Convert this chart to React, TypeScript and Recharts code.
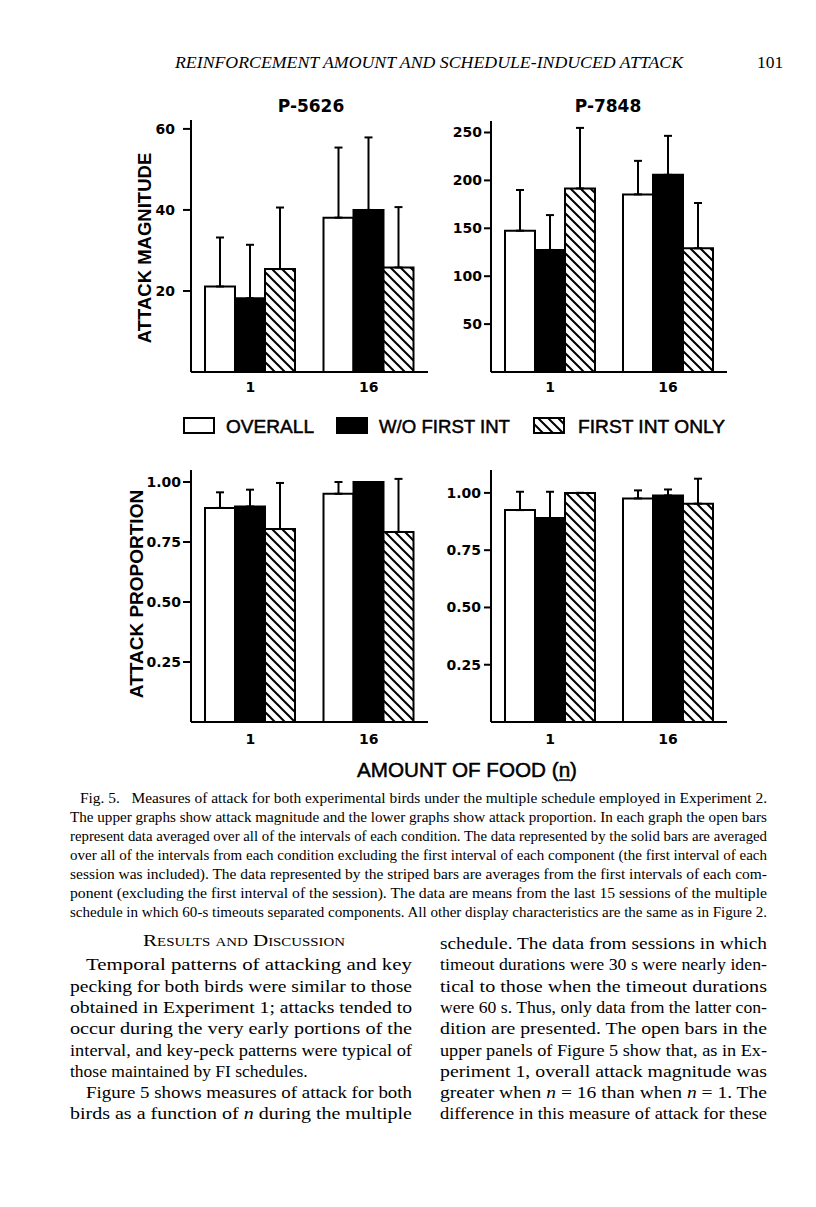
import React from 'react';
import { BarChart, Bar, XAxis, YAxis, ErrorBar } from 'recharts';

// ---------- data ----------
const categories = ['1', '16'];

// P-5626 attack magnitude
const magnitude5626Overall = [21.1, 38.1];
const magnitude5626OverallErr = [12.1, 17.3];
const magnitude5626WithoutFirst = [18.2, 40.0];
const magnitude5626WithoutFirstErr = [13.2, 17.9];
const magnitude5626FirstOnly = [25.4, 25.8];
const magnitude5626FirstOnlyErr = [15.2, 14.9];

// P-7848 attack magnitude
const magnitude7848Overall = [147.5, 185.4];
const magnitude7848OverallErr = [42.5, 35.0];
const magnitude7848WithoutFirst = [127.4, 205.8];
const magnitude7848WithoutFirstErr = [36.4, 40.7];
const magnitude7848FirstOnly = [191.6, 129.1];
const magnitude7848FirstOnlyErr = [63.2, 47.3];

// P-5626 attack proportion
const proportion5626Overall = [0.892, 0.951];
const proportion5626OverallErr = [0.065, 0.049];
const proportion5626WithoutFirst = [0.898, 1.0];
const proportion5626WithoutFirstErr = [0.07, 0];
const proportion5626FirstOnly = [0.804, 0.792];
const proportion5626FirstOnlyErr = [0.192, 0.221];

// P-7848 attack proportion
const proportion7848Overall = [0.925, 0.976];
const proportion7848OverallErr = [0.08, 0.035];
const proportion7848WithoutFirst = [0.89, 0.989];
const proportion7848WithoutFirstErr = [0.115, 0.026];
const proportion7848FirstOnly = [1.0, 0.953];
const proportion7848FirstOnlyErr = [0, 0.109];

const ticks5626Magnitude = [20, 40, 60];
const ticks7848Magnitude = [50, 100, 150, 200, 250];
const ticksProportion = [0.25, 0.5, 0.75, 1.0];

const birdTitles = ['P-5626', 'P-7848'];
const seriesLabels = ['OVERALL', 'W/O FIRST INT', 'FIRST INT ONLY'];
const yAxisTitles = ['ATTACK MAGNITUDE', 'ATTACK PROPORTION'];
const xAxisTitle = 'AMOUNT OF FOOD (n)';

const runningHead = 'REINFORCEMENT AMOUNT AND SCHEDULE-INDUCED ATTACK';
const pageNumber = '101';

const captionLines = [
  'Fig. 5.\u00a0\u00a0 Measures of attack for both experimental birds under the multiple schedule employed in Experiment 2.',
  'The upper graphs show attack magnitude and the lower graphs show attack proportion. In each graph the open bars',
  'represent data averaged over all of the intervals of each condition. The data represented by the solid bars are averaged',
  'over all of the intervals from each condition excluding the first interval of each component (the first interval of each',
  'session was included). The data represented by the striped bars are averages from the first intervals of each com-',
  'ponent (excluding the first interval of the session). The data are means from the last 15 sessions of the multiple',
  'schedule in which 60-s timeouts separated components. All other display characteristics are the same as in Figure 2.',
];

const leftColumnLines = [
  'Temporal patterns of attacking and key',
  'pecking for both birds were similar to those',
  'obtained in Experiment 1; attacks tended to',
  'occur during the very early portions of the',
  'interval, and key-peck patterns were typical of',
  'those maintained by FI schedules.',
  'Figure 5 shows measures of attack for both',
  'birds as a function of *n* during the multiple',
];

const rightColumnLines = [
  'schedule. The data from sessions in which',
  'timeout durations were 30 s were nearly iden-',
  'tical to those when the timeout durations',
  'were 60 s. Thus, only data from the latter con-',
  'dition are presented. The open bars in the',
  'upper panels of Figure 5 show that, as in Ex-',
  'periment 1, overall attack magnitude was',
  'greater when *n* = 16 than when *n* = 1. The',
  'difference in this measure of attack for these',
];

// ---------- helpers ----------
const FONT_SANS = "'Liberation Sans', Arial, Helvetica, sans-serif";
const FONT_WIDE = "'DejaVu Sans', Verdana, sans-serif";
const FONT_SERIF = "'Liberation Serif', 'Times New Roman', serif";

function buildRows(o: number[], oe: number[], w: number[], we: number[], f: number[], fe: number[]) {
  return categories.map((n, i) => ({
    n,
    overall: o[i],
    overallErr: [0, oe[i]],
    without: w[i],
    withoutErr: [0, we[i]],
    first: f[i],
    firstErr: [0, fe[i]],
  }));
}

const rowsTL = buildRows(magnitude5626Overall, magnitude5626OverallErr, magnitude5626WithoutFirst, magnitude5626WithoutFirstErr, magnitude5626FirstOnly, magnitude5626FirstOnlyErr);
const rowsTR = buildRows(magnitude7848Overall, magnitude7848OverallErr, magnitude7848WithoutFirst, magnitude7848WithoutFirstErr, magnitude7848FirstOnly, magnitude7848FirstOnlyErr);
const rowsBL = buildRows(proportion5626Overall, proportion5626OverallErr, proportion5626WithoutFirst, proportion5626WithoutFirstErr, proportion5626FirstOnly, proportion5626FirstOnlyErr);
const rowsBR = buildRows(proportion7848Overall, proportion7848OverallErr, proportion7848WithoutFirst, proportion7848WithoutFirstErr, proportion7848FirstOnly, proportion7848FirstOnlyErr);

type PanelProps = {
  data: any[];
  plotLeft: number;
  plotTop: number;
  plotWidth: number;
  plotHeight: number;
  domainMax: number;
  ticks: number[];
  decimals: number;
  yTickSize: number;
  yTickMargin: number;
  xTickMargin: number;
};

function Panel(p: PanelProps) {
  const yw = 80;
  const xh = 40;
  const mt = 12;
  const mr = 8;
  const tickStyle = { fill: '#000', fontSize: 14, fontFamily: FONT_WIDE, fontWeight: 700 };
  const axisStyle = { stroke: '#000', strokeWidth: 2 };
  return (
    <div style={{ position: 'absolute', left: p.plotLeft - yw, top: p.plotTop - mt }}>
      <BarChart
        width={yw + p.plotWidth + mr}
        height={mt + p.plotHeight + xh}
        data={p.data}
        margin={{ top: mt, right: mr, bottom: 0, left: 0 }}
        barCategoryGap={14}
        barGap={0}
      >
        <XAxis
          dataKey="n"
          type="category"
          height={xh}
          axisLine={axisStyle}
          tickLine={false}
          tickSize={0}
          tickMargin={p.xTickMargin}
          tick={tickStyle}
          interval={0}
        />
        <YAxis
          type="number"
          width={yw}
          domain={[0, p.domainMax]}
          allowDataOverflow
          ticks={p.ticks}
          interval={0}
          tickFormatter={(v: number) => v.toFixed(p.decimals)}
          axisLine={axisStyle}
          tickLine={axisStyle}
          tickSize={p.yTickSize}
          tickMargin={p.yTickMargin}
          tick={tickStyle}
        />
        <Bar dataKey="overall" fill="#fff" stroke="#000" strokeWidth={2} isAnimationActive={false}>
          <ErrorBar dataKey="overallErr" direction="y" width={4} stroke="#000" strokeWidth={2} />
        </Bar>
        <Bar dataKey="without" fill="#000" stroke="#000" strokeWidth={2} isAnimationActive={false}>
          <ErrorBar dataKey="withoutErr" direction="y" width={4} stroke="#000" strokeWidth={2} />
        </Bar>
        <Bar dataKey="first" fill="url(#hatch)" stroke="#000" strokeWidth={2} isAnimationActive={false}>
          <ErrorBar dataKey="firstErr" direction="y" width={4} stroke="#000" strokeWidth={2} />
        </Bar>
      </BarChart>
    </div>
  );
}

function renderSegments(line: string) {
  const parts = line.split('*');
  return parts.map((t, i) =>
    i % 2 === 1 ? (
      <tspan key={i} fontStyle="italic">{t}</tspan>
    ) : (
      <tspan key={i}>{t}</tspan>
    )
  );
}

function TextLine({ x, y, w, size, line, justify = true }: { x: number; y: number; w: number; size: number; line: string; justify?: boolean }) {
  const extra: any = justify ? { textLength: w, lengthAdjust: 'spacingAndGlyphs' } : {};
  return (
    <text x={x} y={y} fontFamily={FONT_SERIF} fontSize={size} fill="#000" style={{ whiteSpace: 'pre' }} {...extra}>
      {renderSegments(line)}
    </text>
  );
}

export default function App() {
  const legendBoxes = [
    { x: 184, fill: '#fff', tx: 226, tw: 88 },
    { x: 337, fill: '#000', tx: 379, tw: 131 },
    { x: 534, fill: 'url(#hatch)', tx: 578, tw: 147 },
  ];
  const capX = 70;
  const capW = 697;
  const bodyTop = 949;
  const lh = 21.3;
  return (
    <div style={{ position: 'absolute', left: 0, top: 0, width: 816, height: 1207, background: '#fff', overflow: 'hidden' }}>
      <svg width={816} height={1207} style={{ position: 'absolute', left: 0, top: 0 }}>
        <defs>
          <pattern id="hatch" patternUnits="userSpaceOnUse" width={10} height={10}>
            <rect width={10} height={10} fill="#fff" />
            <path d="M-1,-1 L11,11 M-1,9 L1,11 M9,-1 L11,1" stroke="#000" strokeWidth={2} />
          </pattern>
        </defs>

        {/* running head */}
        <text x={175} y={68} fontFamily={FONT_SERIF} fontStyle="italic" fontSize={17} textLength={508} lengthAdjust="spacingAndGlyphs" fill="#000">
          {runningHead}
        </text>
        <text x={757} y={68} fontFamily={FONT_SERIF} fontSize={17.5} fill="#000">
          {pageNumber}
        </text>

        {/* panel titles */}
        <text x={311} y={112} textAnchor="middle" fontFamily={FONT_WIDE} fontWeight={700} fontSize={17} fill="#000">
          {birdTitles[0]}
        </text>
        <text x={608} y={112} textAnchor="middle" fontFamily={FONT_WIDE} fontWeight={700} fontSize={17} fill="#000">
          {birdTitles[1]}
        </text>

        {/* y axis titles */}
        <text transform="translate(151,248) rotate(-90)" textAnchor="middle" fontFamily={FONT_SANS} fontWeight={700} fontSize={18.5} fill="#000">
          {yAxisTitles[0]}
        </text>
        <text transform="translate(143,594) rotate(-90)" textAnchor="middle" fontFamily={FONT_SANS} fontWeight={700} fontSize={19} fill="#000">
          {yAxisTitles[1]}
        </text>

        {/* legend */}
        {legendBoxes.map((b, i) => (
          <g key={i}>
            <rect x={b.x} y={418} width={30} height={15} fill={b.fill} stroke="#000" strokeWidth={2} />
            <text x={b.tx} y={433} fontFamily={FONT_SANS} fontSize={18.5} fill="#000" stroke="#000" strokeWidth={0.5} textLength={b.tw} lengthAdjust="spacingAndGlyphs">
              {seriesLabels[i]}
            </text>
          </g>
        ))}

        {/* x axis title, with the n underlined */}
        <text x={357} y={777} fontFamily={FONT_SANS} fontSize={21} fill="#000" stroke="#000" strokeWidth={0.5} textLength={220} lengthAdjust="spacingAndGlyphs">
          {xAxisTitle}
        </text>
        <line x1={559} x2={570} y1={780} y2={780} stroke="#000" strokeWidth={1.5} />

        {/* caption */}
        {captionLines.map((l, i) => (
          <TextLine key={i} x={i === 0 ? capX + 10 : capX} y={803 + i * 19} w={i === 0 ? capW - 10 : capW} size={14} line={l} />
        ))}

        {/* section heading */}
        <text x={143} y={946} fontFamily={FONT_SERIF} fontSize={17} style={{ fontVariant: 'small-caps' }} textLength={202} lengthAdjust="spacingAndGlyphs" fill="#000">
          Results and Discussion
        </text>

        {/* left column */}
        {leftColumnLines.map((l, i) => {
          const indent = i === 0 || i === 6 ? 16 : 0;
          return (
            <TextLine key={i} x={70 + indent} y={bodyTop + (i + 1) * lh} w={342 - indent} size={17.5} line={l} justify={i !== 5} />
          );
        })}

        {/* right column */}
        {rightColumnLines.map((l, i) => (
          <TextLine key={i} x={440} y={bodyTop + i * lh} w={327} size={17.5} line={l} />
        ))}
      </svg>

      <Panel data={rowsTL} plotLeft={191} plotTop={120} plotWidth={237} plotHeight={252} domainMax={62.2} ticks={ticks5626Magnitude} decimals={0} yTickSize={8} yTickMargin={8} xTickMargin={10} />
      <Panel data={rowsTR} plotLeft={491} plotTop={121} plotWidth={236} plotHeight={251} domainMax={262} ticks={ticks7848Magnitude} decimals={0} yTickSize={7} yTickMargin={2} xTickMargin={10} />
      <Panel data={rowsBL} plotLeft={191} plotTop={470} plotWidth={237} plotHeight={252} domainMax={1.05} ticks={ticksProportion} decimals={2} yTickSize={8} yTickMargin={2} xTickMargin={12} />
      <Panel data={rowsBR} plotLeft={491} plotTop={470} plotWidth={236} plotHeight={252} domainMax={1.1} ticks={ticksProportion} decimals={2} yTickSize={7} yTickMargin={3} xTickMargin={12} />
    </div>
  );
}
